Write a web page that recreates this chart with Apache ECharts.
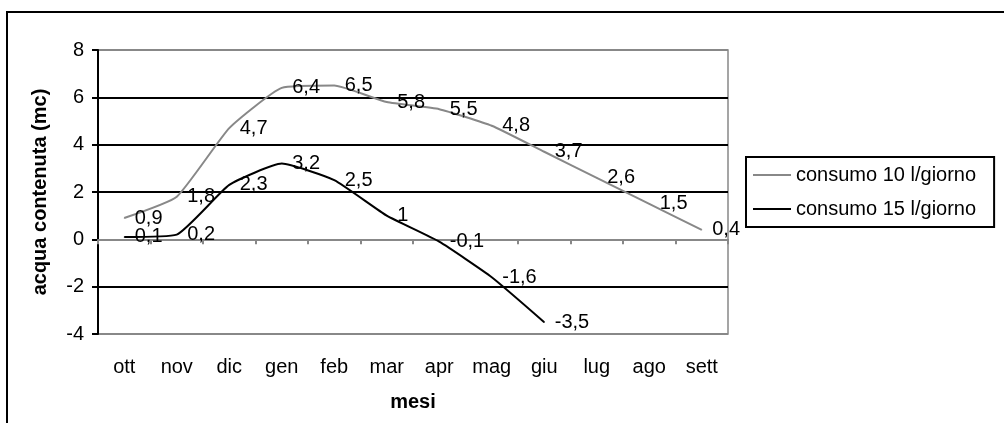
<!DOCTYPE html>
<html>
<head>
<meta charset="utf-8">
<script src="https://cdn.jsdelivr.net/npm/echarts@6/dist/echarts.min.js"></script>
<style>
  html, body { margin: 0; padding: 0; background: #fff; }
  #chart { width: 1004px; height: 423px; }
</style>
</head>
<body>
<div id="chart"></div>
<script>
// mesi e valori
var mesi = ['ott', 'nov', 'dic', 'gen', 'feb', 'mar', 'apr', 'mag', 'giu', 'lug', 'ago', 'sett'];
var consumo10 = [0.9, 1.8, 4.7, 6.4, 6.5, 5.8, 5.5, 4.8, 3.7, 2.6, 1.5, 0.4];
var consumo15 = [0.1, 0.2, 2.3, 3.2, 2.5, 1, -0.1, -1.6, -3.5];
var yTicks = [-4, -2, 0, 2, 4, 6, 8];

var myChart = echarts.init(document.getElementById('chart'));

function virgola(p) {
    return String(p.value).replace('.', ',');
}

var font = 'Liberation Sans, Arial, sans-serif';

option = {
    animation: false,
    textStyle: { fontFamily: font },
    graphic: [{
        type: 'rect',
        shape: { x: 7, y: 12, width: 1020, height: 500 },
        style: { fill: 'none', stroke: '#000', lineWidth: 2 },
        z: -1
    }],
    grid: {
        left: 98,
        right: 276,
        top: 50,
        bottom: 89,
        show: true,
        borderColor: '#888',
        borderWidth: 1.5
    },
    legend: {
        left: 746,
        top: 157,
        orient: 'vertical',
        itemWidth: 38,
        itemHeight: 2,
        itemGap: 14,
        padding: [8, 18, 8, 7],
        borderColor: '#000',
        borderWidth: 2,
        textStyle: { fontSize: 20, color: '#000', fontFamily: font },
        data: [
            { name: 'consumo 10 l/giorno', icon: 'rect' },
            { name: 'consumo 15 l/giorno', icon: 'rect' }
        ]
    },
    xAxis: [{
        type: 'category',
        data: mesi,
        boundaryGap: true,
        axisLine: { onZero: true, lineStyle: { color: '#888', width: 2 } },
        axisTick: { show: true, inside: false, length: 5, lineStyle: { color: '#888', width: 2 } },
        axisLabel: { show: false }
    }, {
        type: 'category',
        data: mesi,
        position: 'bottom',
        boundaryGap: true,
        axisLine: { show: false, onZero: false },
        axisTick: { show: false },
        axisLabel: { show: true, margin: 23, fontSize: 20, color: '#000' },
        name: 'mesi',
        nameLocation: 'middle',
        nameGap: 58,
        nameTextStyle: { fontSize: 20, fontWeight: 'bold', color: '#000' }
    }],
    yAxis: {
        type: 'value',
        min: yTicks[0],
        max: yTicks[yTicks.length - 1],
        interval: 2,
        name: 'acqua contenuta (mc)',
        nameLocation: 'middle',
        nameGap: 48,
        nameTextStyle: { fontSize: 20, fontWeight: 'bold', color: '#000' },
        axisLine: { show: true, lineStyle: { color: '#000', width: 2 } },
        axisTick: { show: true, length: 6, lineStyle: { color: '#000', width: 2 } },
        axisLabel: { fontSize: 20, color: '#000', margin: 14 },
        splitLine: {
            show: true,
            lineStyle: {
                color: ['#888', '#000', '#888', '#000', '#000', '#000', '#888'],
                width: 2
            }
        }
    },
    series: [
        {
            name: 'consumo 10 l/giorno',
            type: 'line',
            data: consumo10,
            smooth: 0.15,
            symbol: 'circle',
            symbolSize: 1,
            showSymbol: true,
            itemStyle: { color: '#888' },
            lineStyle: { color: '#888', width: 2 },
            label: {
                show: true,
                position: 'right',
                distance: 10,
                fontSize: 20,
                color: '#000',
                formatter: virgola
            }
        },
        {
            name: 'consumo 15 l/giorno',
            type: 'line',
            data: consumo15,
            smooth: 0.15,
            symbol: 'circle',
            symbolSize: 1,
            showSymbol: true,
            itemStyle: { color: '#000' },
            lineStyle: { color: '#000', width: 2 },
            label: {
                show: true,
                position: 'right',
                distance: 10,
                fontSize: 20,
                color: '#000',
                formatter: virgola
            }
        }
    ]
};
myChart.setOption(option);
</script>
</body>
</html>
